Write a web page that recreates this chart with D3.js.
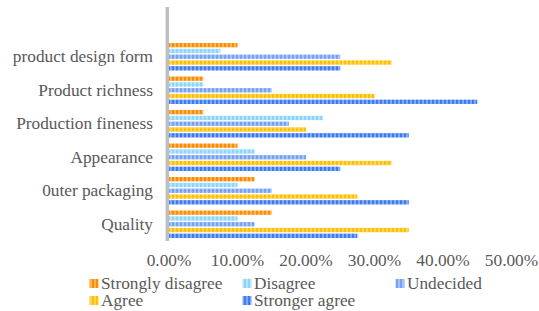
<!DOCTYPE html>
<html>
<head>
<meta charset="utf-8">
<script src="https://cdn.jsdelivr.net/npm/d3@7"></script>
<style>
  body { margin: 0; background: #fff; }
  #plot { position: relative; width: 539px; height: 311px; }
  #plot svg { position: absolute; left: 0; top: 0; }
  .lbl {
    position: absolute;
    font-family: 'Liberation Serif';
    font-size: 17.3px;
    line-height: 15px;
    height: 15px;
    color: #595959;
    white-space: nowrap;
  }
</style>
</head>
<body>
<div id="plot"></div>
<script>
// categories top to bottom
const categories = ["product design form", "Product richness", "Production fineness", "Appearance", "0uter packaging", "Quality"];
const seriesNames = ["Strongly disagree", "Disagree", "Undecided", "Agree", "Stronger agree"];
const seriesColors = ["#ff8c00", "#8dd5fc", "#76a2f6", "#ffc000", "#3b7bf3"];

const stronglyDisagree = [0.10, 0.05, 0.05, 0.10, 0.125, 0.15];
const disagree         = [0.075, 0.05, 0.225, 0.125, 0.10, 0.10];
const undecided        = [0.25, 0.15, 0.175, 0.20, 0.15, 0.125];
const agree            = [0.325, 0.30, 0.20, 0.325, 0.275, 0.35];
const strongerAgree    = [0.25, 0.45, 0.35, 0.25, 0.35, 0.275];

const xTicks = [0, 0.1, 0.2, 0.3, 0.4, 0.5];

const seriesValues = [stronglyDisagree, disagree, undecided, agree, strongerAgree];

const width = 539, height = 311;
const plot = d3.select("#plot");
const svg = plot.append("svg")
  .attr("width", width)
  .attr("height", height);

// striped fills, like the spreadsheet pattern
const defs = svg.append("defs");
seriesColors.forEach((c, i) => {
  const p = defs.append("pattern")
    .attr("id", "pat" + i)
    .attr("width", 4).attr("height", 4)
    .attr("patternUnits", "userSpaceOnUse");
  p.append("rect").attr("width", 4).attr("height", 4).attr("fill", c);
  p.append("rect").attr("x", 2).attr("width", 2).attr("height", 4)
    .attr("fill", d3.interpolateRgb(c, "#fff")(0.35));
});

const x = d3.scaleLinear().domain([0, 0.5]).range([169, 511.5]);
const y = d3.scaleBand().domain(categories).range([40, 241]).paddingInner(0.18).paddingOuter(0.09);
const yInner = d3.scaleBand().domain(seriesNames).range([0, y.bandwidth()]).paddingInner(0.25);

const groups = svg.append("g").selectAll("g")
  .data(categories)
  .join("g")
  .attr("transform", d => `translate(0,${y(d)})`);

groups.selectAll("rect")
  .data((cat, ci) => seriesNames.map((s, si) => ({ s, si, v: seriesValues[si][ci] })))
  .join("rect")
  .attr("x", x(0))
  .attr("y", d => yInner(d.s))
  .attr("height", yInner.bandwidth())
  .attr("width", d => x(d.v) - x(0))
  .attr("fill", d => `url(#pat${d.si})`);

// vertical axis line
svg.append("line")
  .attr("x1", 167.3).attr("x2", 167.3)
  .attr("y1", 7).attr("y2", 241)
  .attr("stroke", "#bfbfbf").attr("stroke-width", 3.5);

// text is placed as html; with a 15px line box the baseline sits ~13.4px below top
const base = 13.4;

// category labels
plot.selectAll("div.cat")
  .data(categories)
  .join("div")
  .attr("class", "lbl cat")
  .style("right", (width - 153) + "px")
  .style("top", d => (y(d) + y.bandwidth() / 2 + 6 - base) + "px")
  .text(d => d);

// x tick labels
plot.selectAll("div.tick")
  .data(xTicks)
  .join("div")
  .attr("class", "lbl tick")
  .style("left", d => x(d) + "px")
  .style("top", (266.5 - base) + "px")
  .style("transform", "translateX(-50%)")
  .text(d => d3.format(".2%")(d));

// legend
const legendPos = [[89.5, 289], [242.5, 289], [395.5, 289], [89.5, 306], [242.5, 306]];
svg.append("g").selectAll("rect")
  .data(seriesNames)
  .join("rect")
  .attr("x", (d, i) => legendPos[i][0])
  .attr("y", (d, i) => legendPos[i][1] - 10)
  .attr("width", 9).attr("height", 9)
  .attr("fill", (d, i) => `url(#pat${i})`);
plot.selectAll("div.leg")
  .data(seriesNames)
  .join("div")
  .attr("class", "lbl leg")
  .style("left", (d, i) => (legendPos[i][0] + 11.5) + "px")
  .style("top", (d, i) => (legendPos[i][1] - base) + "px")
  .text(d => d);
</script>
</body>
</html>
